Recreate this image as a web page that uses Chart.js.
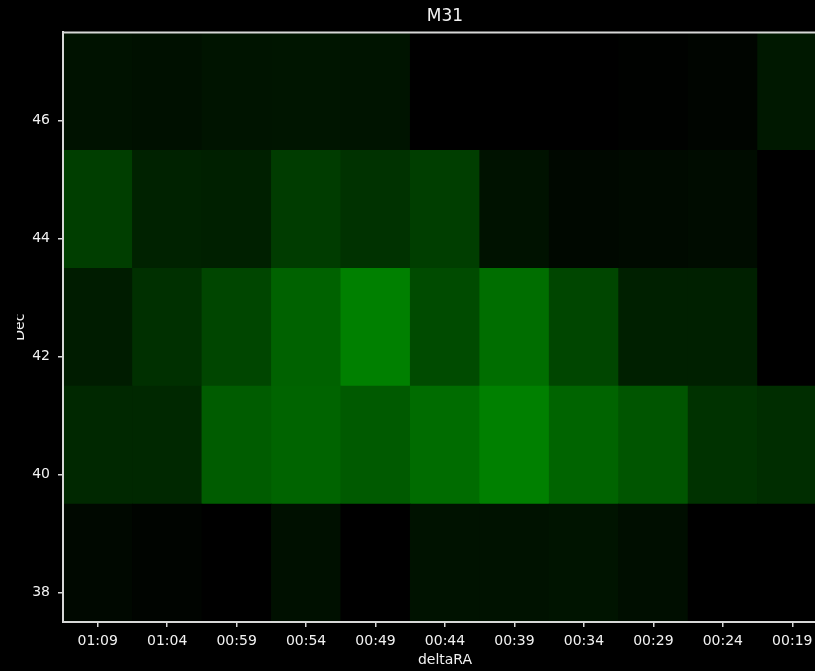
<!DOCTYPE html>
<html>
<head>
<meta charset="utf-8">
<title>M31</title>
<script src="https://cdn.jsdelivr.net/npm/chart.js@4.4.1/dist/chart.umd.min.js"></script>
<style>
  html, body { margin: 0; padding: 0; background: #000; overflow: hidden; }
  canvas { display: block; background: #000; }
</style>
</head>
<body>
<canvas id="chart" width="880" height="671"></canvas>
<script>
// Right-ascension offsets (columns, left to right)
const deltaRA = ['01:09', '01:04', '00:59', '00:54', '00:49', '00:44', '00:39', '00:34', '00:29', '00:24', '00:19'];

// Declination band edges (degrees) and the ticks shown on the Dec axis
const decEdges = [37.5, 39.5, 41.5, 43.5, 45.5, 47.5];
const decTicks = [38, 40, 42, 44, 46];

// Signal level per deltaRA column, one array per Dec band (low to high)
const band38 = [8, 4, 0, 16, 0, 18, 18, 20, 14, 0, 0];
const band40 = [40, 40, 92, 100, 90, 108, 128, 100, 85, 50, 45];
const band42 = [28, 48, 70, 98, 128, 75, 110, 70, 32, 32, 0];
const band44 = [62, 34, 32, 60, 50, 62, 18, 8, 10, 12, 0];
const band46 = [18, 16, 20, 21, 20, 0, 0, 0, 2, 5, 24];

const bands = [band38, band40, band42, band44, band46];
const levelMax = 128;

// Black-to-green colour scale
function cellColor(v) {
  const g = Math.round(Math.max(0, Math.min(1, v / levelMax)) * 128);
  return 'rgb(0,' + g + ',0)';
}

const FONT = 'DejaVu Sans';
const TEXT = '#f2f2f2';
const FRAME = '#d8d8d8';

const datasets = bands.map((levels, i) => ({
  label: 'Dec ' + decTicks[i],
  data: levels.map(() => [decEdges[i], decEdges[i + 1]]),
  backgroundColor: levels.map(cellColor),
  borderWidth: 0,
  borderSkipped: false,
  grouped: false,
  barPercentage: 1,
  categoryPercentage: 1
}));

// Top edge of the frame and the Dec axis label
const framePlugin = {
  id: 'frameAndDecLabel',
  afterDraw(chart) {
    const { ctx, chartArea } = chart;
    ctx.save();
    ctx.strokeStyle = FRAME;
    ctx.lineWidth = 2;
    ctx.beginPath();
    ctx.moveTo(chartArea.left - 1, chartArea.top);
    ctx.lineTo(chartArea.right, chartArea.top);
    ctx.stroke();
    ctx.restore();

    ctx.save();
    ctx.beginPath();
    ctx.rect(17, 0, 40, chart.height);
    ctx.clip();
    ctx.translate(24, (chartArea.top + chartArea.bottom) / 2);
    ctx.rotate(-Math.PI / 2);
    ctx.fillStyle = TEXT;
    ctx.font = '14px "' + FONT + '"';
    ctx.textAlign = 'center';
    ctx.textBaseline = 'alphabetic';
    ctx.fillText('Dec', 0, 0);
    ctx.restore();
  }
};

new Chart(document.getElementById('chart'), {
  type: 'bar',
  data: { labels: deltaRA, datasets },
  plugins: [framePlugin],
  options: {
    responsive: false,
    animation: false,
    devicePixelRatio: 1,
    layout: { padding: { left: 0, right: 53, top: 0, bottom: 0 } },
    plugins: {
      legend: { display: false },
      tooltip: { enabled: false },
      title: {
        display: true,
        text: 'M31',
        fullSize: false,
        color: TEXT,
        font: { family: FONT, size: 17, weight: 'normal' },
        padding: { top: 6, bottom: 6 }
      }
    },
    scales: {
      x: {
        type: 'category',
        offset: true,
        afterFit(scale) { scale.height = 49; },
        grid: {
          display: true,
          drawOnChartArea: false,
          drawTicks: true,
          tickLength: 5,
          color: FRAME,
          lineWidth: 1.5,
          offset: false
        },
        border: { display: true, color: FRAME, width: 2, z: 1 },
        ticks: {
          color: TEXT,
          font: { family: FONT, size: 14 },
          padding: 6,
          maxRotation: 0,
          autoSkip: false
        },
        title: {
          display: true,
          text: 'deltaRA',
          color: TEXT,
          font: { family: FONT, size: 14 },
          padding: { top: 0, bottom: 2 }
        }
      },
      y: {
        type: 'linear',
        min: decEdges[0],
        max: decEdges[decEdges.length - 1],
        afterFit(scale) { scale.width = 63; },
        afterBuildTicks(scale) { scale.ticks = decTicks.map(v => ({ value: v })); },
        grid: {
          display: true,
          drawOnChartArea: false,
          drawTicks: true,
          tickLength: 5,
          color: FRAME,
          lineWidth: 1.5
        },
        border: { display: true, color: FRAME, width: 2, z: 1 },
        ticks: {
          color: TEXT,
          font: { family: FONT, size: 14 },
          padding: 8
        },
        title: { display: false }
      }
    }
  }
});
</script>
</body>
</html>
